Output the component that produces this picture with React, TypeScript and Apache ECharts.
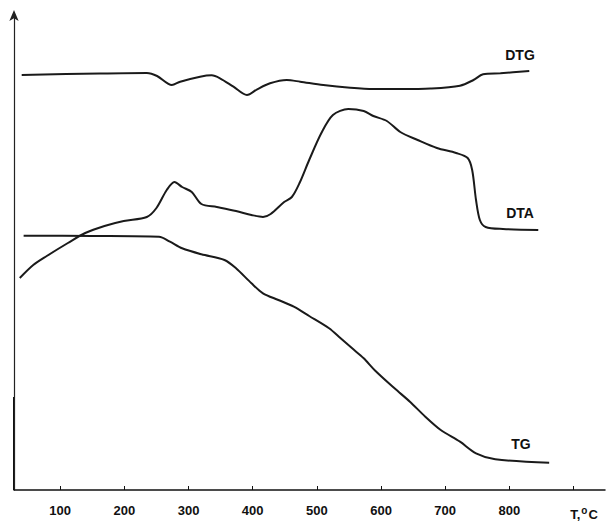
import React, { useEffect, useRef } from "react";
import * as echarts from "echarts";

// Temperature (°C) vs relative signal (arbitrary units)
const dtgT = [40, 162, 235, 251, 274, 287, 318, 336, 349, 370, 391, 407, 427, 453, 474, 510, 552, 588, 630, 677, 723, 744, 759, 786, 831];
const dtgV = [415, 416.5, 417, 414, 405, 408.3, 413.3, 414.7, 411.7, 403.3, 395, 400.7, 406.7, 410, 408.3, 405, 402.3, 401, 401, 401.5, 404.3, 410, 415.7, 416.7, 419];

const dtaT = [37, 58, 79, 112, 139, 169, 199, 235, 250, 266, 278, 290, 305, 320, 344, 374, 398, 416, 428, 449, 461, 473, 488, 507, 525, 549, 573, 588, 609, 630, 657, 687, 717, 735, 742, 748, 754, 763, 790, 845];
const dtaV = [212, 225, 234, 247, 257, 264, 269, 273, 282, 300, 308, 303, 298, 286, 283, 279, 275, 273, 276, 288, 293, 307, 330, 357, 375, 381, 379, 374, 369, 358, 350, 342, 337, 332, 320, 290, 270, 263, 261, 260];

const tgT = [43, 150, 254, 271, 290, 320, 356, 374, 398, 416, 440, 464, 488, 519, 537, 555, 573, 591, 621, 645, 669, 693, 723, 748, 778, 862];
const tgV = [254.3, 254, 253.3, 248.3, 241.7, 235.7, 230, 221.7, 206.7, 196.7, 190, 183.3, 174, 161.7, 151.7, 141.7, 131.7, 119.3, 101.7, 88.3, 73.3, 60, 48.3, 36.7, 30.7, 27.3];

const tickValues = [100, 200, 300, 400, 500, 600, 700, 800, 900];
const labelValues = [100, 200, 300, 400, 500, 600, 700, 800];

const pair = (xs: number[], ys: number[]) => xs.map((x, i) => [x, ys[i]]);

export default function App() {
  const ref = useRef<HTMLDivElement>(null);
  useEffect(() => {
    if (!ref.current) return;
    const chart = echarts.init(ref.current, undefined, { renderer: "svg" });
    const lineStyle = { color: "#1a1a1a", width: 2 };
    const font = "Liberation Sans, Arial, sans-serif";
    chart.setOption({
      animation: false,
      backgroundColor: "#ffffff",
      grid: { left: 14, right: 1, top: 15, bottom: 33 },
      xAxis: {
        type: "value",
        min: 28,
        max: 949,
        splitLine: { show: false },
        axisLine: { lineStyle: { color: "#111", width: 1.5 } },
        axisTick: { inside: true, length: 4, customValues: tickValues, lineStyle: { color: "#111", width: 1 } },
        axisLabel: {
          customValues: labelValues,
          margin: 14,
          color: "#111",
          fontSize: 13,
          fontWeight: "bold",
          fontFamily: font,
        },
      },
      yAxis: {
        type: "value",
        min: 0,
        max: 475,
        splitLine: { show: false },
        axisTick: { show: false },
        axisLabel: { show: false },
        axisLine: {
          show: true,
          symbol: ["none", "arrow"],
          symbolSize: [7, 11],
          symbolOffset: [0, 5],
          lineStyle: { color: "#222", width: 1.2 },
        },
      },
      series: [
        { type: "line", data: pair(dtgT, dtgV), smooth: 0.3, showSymbol: false, lineStyle },
        { type: "line", data: pair(dtaT, dtaV), smooth: 0.3, showSymbol: false, lineStyle },
        { type: "line", data: pair(tgT, tgV), smooth: 0.3, showSymbol: false, lineStyle },
      ],
      graphic: [
        { type: "line", shape: { x1: 14, y1: 397, x2: 14, y2: 490 }, style: { stroke: "#111", lineWidth: 2 } },
        { type: "text", x: 520, y: 55, style: { text: "DTG", align: "center", verticalAlign: "middle", font: `bold 14px ${font}`, fill: "#111" } },
        { type: "text", x: 520, y: 213, style: { text: "DTA", align: "center", verticalAlign: "middle", font: `bold 14px ${font}`, fill: "#111" } },
        { type: "text", x: 521, y: 444, style: { text: "TG", align: "center", verticalAlign: "middle", font: `bold 14px ${font}`, fill: "#111" } },
        {
          type: "text",
          x: 584,
          y: 513,
          style: {
            text: "{a|T,}{b|o}{a|C}",
            align: "center",
            verticalAlign: "middle",
            fill: "#111",
            rich: {
              a: { font: `bold 13px ${font}`, fill: "#111", verticalAlign: "bottom" },
              b: { font: `bold 10px ${font}`, fill: "#111", verticalAlign: "top", padding: [0, 1, 5, 1] },
            },
          },
        },
      ],
    });
    return () => chart.dispose();
  }, []);
  return <div ref={ref} style={{ width: 606, height: 523, position: "absolute", left: 0, top: 0 }} />;
}
